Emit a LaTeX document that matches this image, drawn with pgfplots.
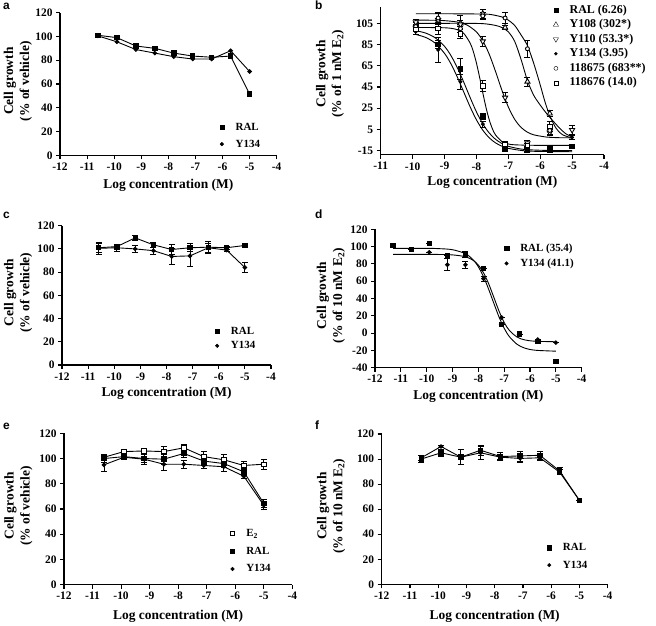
\documentclass[border=0pt]{standalone}
\usepackage{fontspec}
\setmainfont{Liberation Serif}
\newfontfamily\sansbold{Liberation Sans}
\usepackage{pgfplots}
\pgfplotsset{compat=1.18}

\pgfplotsset{
  panel/.style={
    scale only axis,
    axis x line*=bottom, axis y line*=left,
    axis line style={line width=1.1pt},
    every tick/.style={black, line width=1.1pt},
    major tick length=4pt,
    tick align=outside,
    xmin=-12, xmax=-4, xtick={-12,...,-4},
    /pgf/number format/assume math mode=true,
    ticklabel style={font=\bfseries\fontsize{11.5}{11.5}\selectfont},
    label style={font=\bfseries\fontsize{13.5}{16}\selectfont},
    ylabel style={align=center},
    xlabel={Log concentration (M)},
    legend cell align=left,
    legend style={draw=none, fill=none, inner sep=0pt,
      font=\bfseries\fontsize{11}{11}\selectfont,
      nodes={inner sep=1pt, text height=7pt, text depth=1pt},
      anchor=north west},
    legend image code/.code={\path[draw=none, fill=none] (0cm,-2pt) rectangle (0.6cm,2pt);
      \draw[mark repeat=2,mark phase=2,#1] plot coordinates {(0cm,0cm) (0.15cm,0cm) (0.6cm,0cm)};},
    clip=false,
  },
  ln/.style={black, line width=0.9pt, mark options={solid, line width=0.6pt}},
  eb/.style={error bars/y dir=both, error bars/y explicit,
    error bars/error bar style={line width=0.8pt, black},
    error bars/error mark options={line width=0.8pt, black, mark size=3pt, rotate=90}},
  fsq/.style={mark=square*, mark size=2.2pt, mark options={fill=black}},
  fci/.style={mark=*, mark size=1.8pt, mark options={fill=black}},
  osq/.style={mark=square*, mark size=2.2pt, mark options={fill=white}},
}

\begin{document}
\begin{tikzpicture}
\path[use as bounding box] (0,0) rectangle (656bp,626bp);

% ---------- a ----------
\begin{axis}[panel, at={(60bp,470.7bp)}, anchor=south west,
  width=216.7bp, height=142.6bp, ymin=0, ymax=120, ytick={0,20,...,120},
  ylabel={Cell growth\\(\% of vehicle)},
  ylabel style={at={(axis description cs:-0.194,0.52)}, anchor=center},
  xlabel style={at={(axis description cs:0.5,-0.208)}, anchor=center},
  legend style={at={(0.7266,0.2314)}, row sep=6.7pt}]
\addplot[ln, fsq, forget plot] coordinates {(-10.6,101) (-9.9,99) (-9.2,92) (-8.5,90) (-7.8,86) (-7.1,83.5) (-6.4,82.5) (-5.7,83.5) (-5.0,51.5)};
\addplot[ln, fci, forget plot] coordinates {(-10.6,100.5) (-9.9,95.5) (-9.2,89) (-8.5,86) (-7.8,83) (-7.1,81) (-6.4,81) (-5.7,88) (-5.0,70.5)};
\addlegendimage{only marks, fsq}\addlegendentry{RAL}
\addlegendimage{only marks, fci}\addlegendentry{Y134}
\end{axis}

% ---------- b ----------
\begin{axis}[panel, at={(380.7bp,471.1bp)}, anchor=south west,
  width=223.3bp, height=147.5bp, xmin=-11, xmax=-4, xtick={-11,...,-4},
  ymin=-19, ymax=120, ytick={-15,5,...,105},
  ylabel={Cell growth\\(\% of 1 nM E\textsubscript{2})},
  ylabel style={at={(axis description cs:-0.227,0.55)}, anchor=center},
  xlabel style={at={(axis description cs:0.5,-0.188)}, anchor=center},
  legend style={at={(0.7647,1.0163)}, row sep=4.6pt, font=\bfseries\fontsize{12}{12}\selectfont}]
% fitted curves
\addplot[ln, smooth, forget plot] coordinates {(-9.9,98.0) (-9.6,95.9) (-9.3,91.5) (-9.0,83.3) (-8.8,74.7) (-8.6,63.3) (-8.4,49.8) (-8.2,35.3) (-8.0,21.6) (-7.8,10.3) (-7.6,1.7) (-7.4,-4.3) (-7.2,-8.3) (-7.0,-10.9) (-6.6,-13.5) (-6.2,-14.4) (-5.6,-14.9) (-5.0,-15)};
\addplot[ln, smooth, forget plot] coordinates {(-9.9,94.5) (-9.6,91.8) (-9.3,86.5) (-9.0,76.7) (-8.8,66.9) (-8.6,54.5) (-8.4,40.5) (-8.2,26.5) (-8.0,14.1) (-7.8,4.3) (-7.6,-2.8) (-7.4,-7.7) (-7.2,-10.8) (-7.0,-12.8) (-6.6,-14.8) (-6.2,-15.6) (-5.6,-15.9) (-5.0,-16)};
\addplot[ln, smooth, forget plot] coordinates {(-9.9,101) (-9.4,101) (-9.0,100.8) (-8.8,100.3) (-8.6,99.0) (-8.4,95.6) (-8.2,86.6) (-8.1,78.7) (-8.0,67.7) (-7.9,54.2) (-7.8,39.6) (-7.7,25.8) (-7.6,14.3) (-7.5,5.7) (-7.4,-0.2) (-7.2,-6.4) (-7.0,-8.7) (-6.8,-9.5) (-6.2,-9.96) (-5.6,-10) (-5.0,-10)};
\addplot[ln, smooth, forget plot] coordinates {(-9.9,108) (-9.4,107.9) (-9.0,107.5) (-8.6,106.2) (-8.3,103.5) (-8.0,96.9) (-7.8,88.5) (-7.6,76.0) (-7.4,59.6) (-7.2,41.9) (-7.0,26.2) (-6.8,14.5) (-6.6,6.9) (-6.4,2.4) (-6.2,-0.1) (-5.8,-2.2) (-5.4,-2.8) (-5.0,-2.9)};
\addplot[ln, smooth, forget plot] coordinates {(-9.9,105) (-9.0,105) (-8.5,105) (-7.8,104.7) (-7.4,103) (-7.2,101) (-7.0,97) (-6.8,88) (-6.6,71) (-6.4,51) (-6.2,37) (-6.0,28) (-5.8,20) (-5.6,13) (-5.4,6.5) (-5.2,1) (-5.0,-2)};
\addplot[ln, smooth, forget plot] coordinates {(-9.9,114) (-9.0,114) (-8.0,113.8) (-7.6,113.5) (-7.2,111) (-7.0,108) (-6.8,103) (-6.6,94) (-6.4,84) (-6.2,67) (-6.0,47) (-5.85,31) (-5.7,18) (-5.5,6) (-5.3,0) (-5.0,-3)};
% data points
\addplot[ln, only marks, fsq, eb, forget plot] table[y error=e] {
x y e
-9.9 100 2
-9.2 85 4
-8.5 62 10
-7.8 17 3
-7.1 -12 3
-6.4 -14 2
-5.7 -13 3
-5.0 -11 2
};
\addplot[ln, only marks, mark=triangle*, mark size=3pt, mark options={fill=white}, eb, forget plot] table[y error=e] {
x y e
-9.9 104 2
-9.2 107 3
-8.5 105 3
-7.8 114 4
-7.1 101 2
-6.4 50 4
-5.7 20 3
};
\addplot[ln, only marks, mark=triangle*, mark size=3pt, mark options={fill=white, rotate=180}, eb, forget plot] table[y error=e] {
x y e
-9.9 106 3
-9.2 108 6
-8.5 104 8
-7.8 88 5
-7.1 35 5
-6.4 -8 3
-5.7 2 3
-5.0 4.5 4
};
\addplot[ln, only marks, mark=*, mark size=1.5pt, mark options={fill=black}, eb, forget plot] table[y error=e] {
x y e
-9.9 97 2
-9.2 80 12
-8.5 50 7
-7.8 10 3
-7.1 -14 2
-6.4 -15 2
-5.7 -15 2
-5.0 -2.5 2
};
\addplot[ln, only marks, mark=*, mark size=2pt, mark options={fill=white}, eb, forget plot] table[y error=e] {
x y e
-9.9 102 2
-9.2 110 5
-8.5 100 4
-7.8 112 3
-7.1 110 5
-6.4 81 8
-5.7 4 4
};
\addplot[ln, only marks, osq, eb, forget plot] table[y error=e] {
x y e
-9.9 99 2
-9.2 100 5
-8.5 95 4
-7.8 46 5
-7.1 -9 3
-6.4 -10 2
-5.7 8 5
};
\addlegendimage{only marks, fsq}\addlegendentry{RAL (6.26)}
\addlegendimage{only marks, mark=triangle*, mark size=3pt, mark options={fill=white}}\addlegendentry{Y108 (302*)}
\addlegendimage{only marks, mark=triangle*, mark size=3pt, mark options={fill=white, rotate=180}}\addlegendentry{Y110 (53.3*)}
\addlegendimage{only marks, mark=*, mark size=1.5pt, mark options={fill=black}}\addlegendentry{Y134 (3.95)}
\addlegendimage{only marks, mark=*, mark size=2pt, mark options={fill=white}}\addlegendentry{118675 (683**)}
\addlegendimage{only marks, osq}\addlegendentry{118676 (14.0)}
\end{axis}

% ---------- c ----------
\begin{axis}[panel, at={(62bp,261bp)}, anchor=south west,
  width=209bp, height=139.3bp, ymin=0, ymax=120, ytick={0,20,...,120},
  ylabel={Cell growth\\(\% of vehicle)},
  ylabel style={at={(axis description cs:-0.21,0.52)}, anchor=center},
  xlabel style={at={(axis description cs:0.5,-0.203)}, anchor=center},
  legend style={at={(0.7213,0.28)}, row sep=4.7pt}]
\addplot[ln, fsq, eb, forget plot] table[y error=e] {
x y e
-10.6 101 4
-9.9 102 2
-9.2 109.5 2.5
-8.5 103.5 2
-7.8 99.5 4
-7.1 101 3.5
-6.4 101.5 5
-5.7 101 1
-5.0 103 0
};
\addplot[ln, fci, eb, forget plot] table[y error=e] {
x y e
-10.6 100.5 5
-9.9 101 3
-9.2 100 3
-8.5 98.5 3
-7.8 93.5 7
-7.1 94 9
-6.4 101 4
-5.7 99 1
-5.0 84 4
};
\addlegendimage{only marks, fsq}\addlegendentry{RAL}
\addlegendimage{only marks, fci}\addlegendentry{Y134}
\end{axis}

% ---------- d ----------
\begin{axis}[panel, at={(375bp,258.3bp)}, anchor=south west,
  width=206.7bp, height=138.4bp, ymin=-40, ymax=120, ytick={-40,-20,...,120},
  ylabel={Cell growth\\(\% of 10 nM E\textsubscript{2})},
  ylabel style={at={(axis description cs:-0.213,0.52)}, anchor=center},
  xlabel style={at={(axis description cs:0.5,-0.21)}, anchor=center},
  legend style={at={(0.6147,0.8988)}, row sep=5pt}]
\addplot[ln, smooth, forget plot] coordinates {(-11.3,98) (-10,98) (-9.5,97.6) (-9,96.4) (-8.5,91.8) (-8.2,84.7) (-8.0,76.6) (-7.8,65.2) (-7.6,50.6) (-7.4,34.4) (-7.2,18.7) (-7.0,5.6) (-6.8,-4.1) (-6.5,-13) (-6.2,-17.4) (-5.8,-19.8) (-5.0,-20.9)};
\addplot[ln, smooth, forget plot] coordinates {(-11.3,91) (-10,91) (-9.5,90.9) (-9,90.4) (-8.5,88.3) (-8.2,84.1) (-8.0,78.6) (-7.8,69.7) (-7.6,57) (-7.4,41.3) (-7.2,25.5) (-7.0,12.3) (-6.8,3.1) (-6.5,-4.6) (-6.2,-7.9) (-5.8,-9.4) (-5.0,-10)};
\addplot[ln, only marks, fsq, eb, forget plot] table[y error=e] {
x y e
-11.3 101 0
-10.6 97 0
-9.9 103.5 0
-9.2 89.5 0
-8.5 91 3
-7.8 75 0
-7.1 10 0
-6.4 -1 0
-5.7 -10 0
-5.0 -33 0
};
\addplot[ln, only marks, fci, eb, forget plot] table[y error=e] {
x y e
-9.9 93.5 0
-9.2 79 7
-8.5 79 4
-7.8 63 3
-7.1 18 0
-6.4 -1.5 0
-5.7 -7.5 0
-5.0 -11 0
};
\addlegendimage{only marks, fsq}\addlegendentry{RAL (35.4)}
\addlegendimage{only marks, fci}\addlegendentry{Y134 (41.1)}
\end{axis}

% ---------- e ----------
\begin{axis}[panel, at={(64bp,41.3bp)}, anchor=south west,
  width=228.3bp, height=151.4bp, ymin=0, ymax=120, ytick={0,20,...,120},
  ylabel={Cell growth\\(\% of vehicle)},
  ylabel style={at={(axis description cs:-0.2,0.52)}, anchor=center},
  xlabel style={at={(axis description cs:0.5,-0.21)}, anchor=center},
  legend style={at={(0.7186,0.3725)}, row sep=7.8pt}]
\addplot[ln, osq, eb, forget plot] table[y error=e] {
x y e
-10.6 101 2
-9.9 105.5 2
-9.2 106 2
-8.5 105.5 4
-7.8 108.5 3
-7.1 101.5 4
-6.4 99 4
-5.7 94.5 3
-5.0 95.5 4
};
\addplot[ln, fsq, eb, forget plot] table[y error=e] {
x y e
-10.6 100 3
-9.9 101.5 2
-9.2 100 3
-8.5 99.5 4
-7.8 104 3
-7.1 98 3
-6.4 96 3
-5.7 89.5 3
-5.0 64.5 3
};
\addplot[ln, fci, eb, forget plot] table[y error=e] {
x y e
-10.6 95 5
-9.9 101 2
-9.2 99.5 4
-8.5 95.5 5
-7.8 95.5 3
-7.1 94.5 2
-6.4 93.5 4
-5.7 86 2
-5.0 63 3
};
\addlegendimage{only marks, osq}\addlegendentry{E\textsubscript{2}}
\addlegendimage{only marks, fsq}\addlegendentry{RAL}
\addlegendimage{only marks, fci}\addlegendentry{Y134}
\end{axis}

% ---------- f ----------
\begin{axis}[panel, at={(381.7bp,41.7bp)}, anchor=south west,
  width=226bp, height=150.3bp, ymin=0, ymax=120, ytick={0,20,...,120},
  ylabel={Cell growth\\(\% of 10 nM E\textsubscript{2})},
  ylabel style={at={(axis description cs:-0.224,0.52)}, anchor=center},
  xlabel style={at={(axis description cs:0.5,-0.215)}, anchor=center},
  legend style={at={(0.7215,0.2768)}, row sep=7.3pt}]
\addplot[ln, fsq, eb, forget plot] table[y error=e] {
x y e
-10.6 100 3
-9.9 105 3
-9.2 101.5 6
-8.5 107 4
-7.8 102 3
-7.1 102.5 4
-6.4 103 3
-5.7 90.5 3
-5.0 67 0
};
\addplot[ln, fci, eb, forget plot] table[y error=e] {
x y e
-10.6 101 2
-9.9 110 1
-9.2 101.5 2
-8.5 105 5
-7.8 101.5 2
-7.1 100.5 3
-6.4 101 2
-5.7 89.5 2
-5.0 67 0
};
\addlegendimage{only marks, fsq}\addlegendentry{RAL}
\addlegendimage{only marks, fci}\addlegendentry{Y134}
\end{axis}

% panel letters
\begin{scope}[every node/.style={anchor=base west, inner sep=0pt, font=\sansbold\bfseries\fontsize{12}{12}\selectfont}]
\node at (3bp,616.5bp) {a};
\node at (315bp,616.5bp) {b};
\node at (3bp,407.7bp) {c};
\node at (315bp,407.5bp) {d};
\node at (3bp,196bp) {e};
\node at (315bp,196bp) {f};
\end{scope}
\end{tikzpicture}
\end{document}
